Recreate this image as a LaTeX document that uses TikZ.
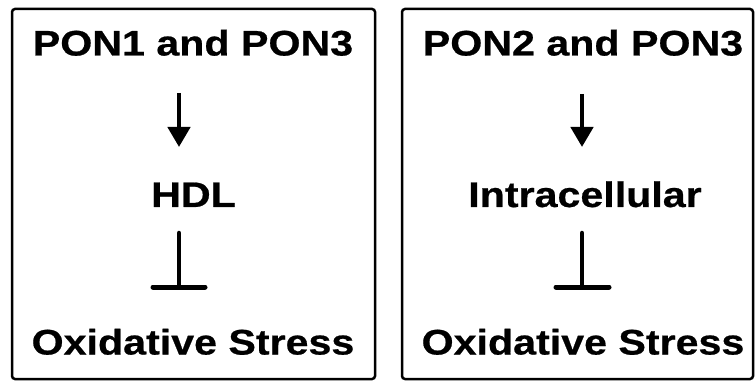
\documentclass[tikz,border=0pt]{standalone}
\usepackage{fontspec}
\setmainfont[FakeStretch=1.16,FakeBold=0.6]{Liberation Sans}
\usetikzlibrary{arrows.meta}
\begin{document}
\begin{tikzpicture}[x=1pt,y=-1pt,
  frame/.style={draw=black,line width=2.5pt,rounded corners=3pt},
  lbl/.style={anchor=base,inner sep=0pt,font=\fontsize{35.5}{40}\selectfont\bfseries},
  arr/.style={line width=4.5pt,-{Triangle[width=22pt,length=20pt]}},
  stem/.style={line width=4.5pt,line cap=round},
  tbar/.style={line width=5pt,line cap=round}]
\useasboundingbox (0,0) rectangle (755,382);
% boxes
\draw[frame] (12,9) rectangle (375,379);
\draw[frame] (402,9) rectangle (753,379);
% left panel
\node[lbl] (l1) at (193,55.5) {PON1 and PON3};
\node[lbl] (l2) at (193.5,207) {HDL};
\node[lbl] (l3) at (193,354.5) {Oxidative Stress};
\coordinate (la1) at (179,93);
\coordinate (la2) at (179,147);
\coordinate (lt1) at (179,233);
\coordinate (lt2) at (179,287);
\coordinate (lb1) at (153,287);
\coordinate (lb2) at (205,287);
\draw[arr] (la1) -- (la2);
\draw[stem] (lt1) -- (lt2);
\draw[tbar] (lb1) -- (lb2);
% right panel
\node[lbl] (r1) at (583,55.5) {PON2 and PON3};
\node[lbl] (r2) at (585,207) {Intracellular};
\node[lbl] (r3) at (583,354.5) {Oxidative Stress};
\coordinate (ra1) at (582,94);
\coordinate (ra2) at (582,147);
\coordinate (rt1) at (582,233);
\coordinate (rt2) at (582,287);
\coordinate (rb1) at (556,287);
\coordinate (rb2) at (609,287);
\draw[arr] (ra1) -- (ra2);
\draw[stem] (rt1) -- (rt2);
\draw[tbar] (rb1) -- (rb2);
\end{tikzpicture}
\end{document}
